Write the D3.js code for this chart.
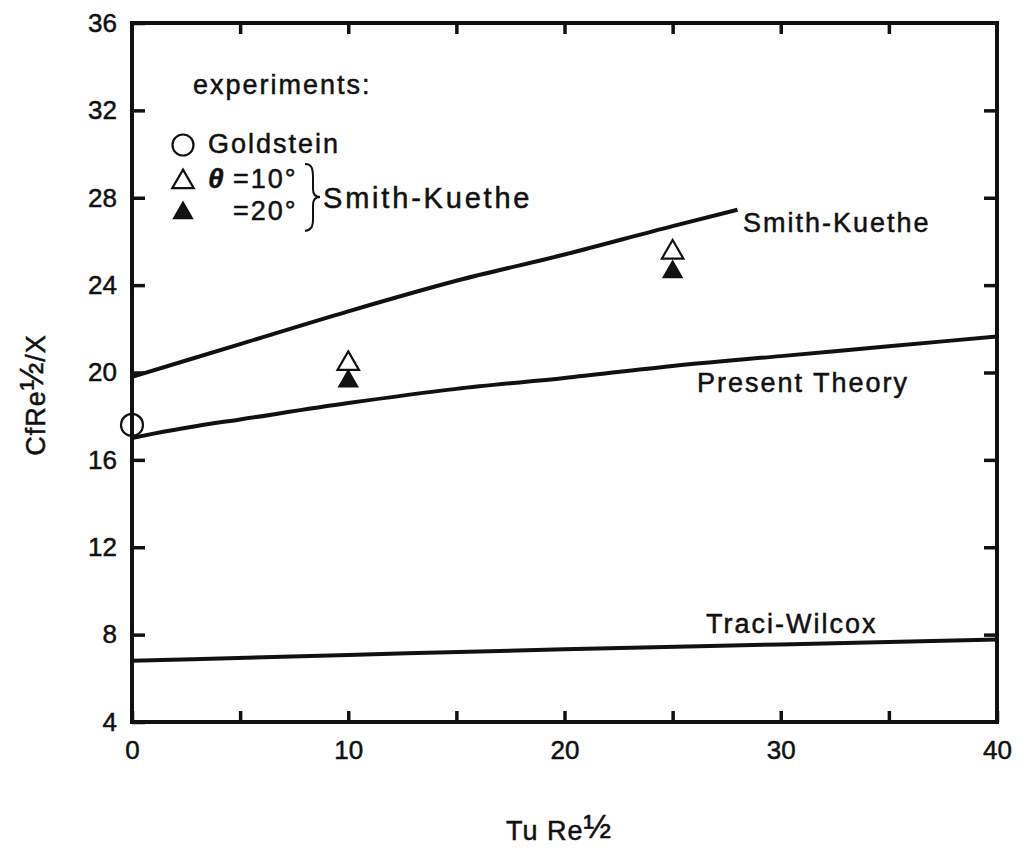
<!DOCTYPE html>
<html>
<head>
<meta charset="utf-8">
<script src="https://cdn.jsdelivr.net/npm/d3@7"></script>
<style>
  body { margin: 0; background: #fff; }
  text { font-family: "Liberation Sans", Arial, sans-serif; fill: #111; stroke: #111; stroke-width: 0.5px; }
</style>
</head>
<body>
<div id="chart"></div>
<script>
// values
var xTicks = [0, 5, 10, 15, 20, 25, 30, 35, 40];
var yTicks = [4, 8, 12, 16, 20, 24, 28, 32, 36];

var smithX = [0, 5, 10, 15, 20, 25, 28];
var smithY = [19.8, 21.3, 22.8, 24.2, 25.4, 26.7, 27.45];

var presentX = [0, 1, 3, 5, 10, 15, 20, 25, 30, 35, 40];
var presentY = [17.0, 17.2, 17.55, 17.85, 18.6, 19.25, 19.75, 20.3, 20.75, 21.2, 21.65];

var traciX = [0, 10, 20, 30, 40];
var traciY = [6.8, 7.07, 7.33, 7.55, 7.78];

var goldsteinX = [0];
var goldsteinY = [17.6];
var theta10X = [10, 25];
var theta10Y = [20.4, 25.5];
var theta20X = [10, 25];
var theta20Y = [19.6, 24.6];

var margin = {top: 23, left: 132},
    width = 865,
    height = 699;

var svg = d3.select("#chart").append("svg")
    .attr("width", 1020)
    .attr("height", 850);

var g = svg.append("g")
    .attr("transform", "translate(" + margin.left + "," + margin.top + ")");

var x = d3.scaleLinear().domain([0, 40]).range([0, width]);
var y = d3.scaleLinear().domain([4, 36]).range([height, 0]);

// axes, ticks pointing inward
var bottomAx = g.append("g")
    .attr("transform", "translate(0," + height + ")")
    .call(d3.axisBottom(x).tickValues(xTicks).tickSize(-11).tickPadding(19)
      .tickFormat(function(d) { return d % 10 == 0 ? d : ""; }));
var topAx = g.append("g")
    .call(d3.axisTop(x).tickValues(xTicks.slice(1, -1)).tickSize(-11).tickFormat(""));
var leftAx = g.append("g")
    .call(d3.axisLeft(y).tickValues(yTicks).tickSize(-13).tickPadding(15));
var rightAx = g.append("g")
    .attr("transform", "translate(" + width + ",0)")
    .call(d3.axisRight(y).tickValues(yTicks.slice(1, -1)).tickSize(-13).tickFormat(""));

[bottomAx, topAx, leftAx, rightAx].forEach(function(a) {
  a.select(".domain").remove();
  a.selectAll("line").attr("stroke", "#111").attr("stroke-width", 3.5);
  a.selectAll("text").style("font-size", "26px").attr("fill", "#111")
    .style("font-family", "'Liberation Sans', Arial, sans-serif");
});
bottomAx.selectAll("text").attr("dy", "0.71em");

g.append("rect")
    .attr("width", width)
    .attr("height", height)
    .attr("fill", "none")
    .attr("stroke", "#111")
    .attr("stroke-width", 4);

// curves
var line = d3.line()
    .x(function(d) { return x(d[0]); })
    .y(function(d) { return y(d[1]); })
    .curve(d3.curveMonotoneX);

[[smithX, smithY], [presentX, presentY], [traciX, traciY]].forEach(function(s) {
  g.append("path")
    .datum(d3.zip(s[0], s[1]))
    .attr("d", line)
    .attr("fill", "none")
    .attr("stroke", "#111")
    .attr("stroke-width", 4);
});

// experiment markers
var tri = d3.symbol().type(d3.symbolTriangle).size(200);

g.selectAll(".gold")
    .data(d3.zip(goldsteinX, goldsteinY))
  .enter().append("circle")
    .attr("cx", function(d) { return x(d[0]); })
    .attr("cy", function(d) { return y(d[1]); })
    .attr("r", 11)
    .attr("fill", "none")
    .attr("stroke", "#111")
    .attr("stroke-width", 2.2);

g.selectAll(".t20")
    .data(d3.zip(theta20X, theta20Y))
  .enter().append("path")
    .attr("d", tri)
    .attr("transform", function(d) { return "translate(" + x(d[0]) + "," + y(d[1]) + ")"; })
    .attr("fill", "#111");

g.selectAll(".t10")
    .data(d3.zip(theta10X, theta10Y))
  .enter().append("path")
    .attr("d", tri)
    .attr("transform", function(d) { return "translate(" + x(d[0]) + "," + y(d[1]) + ")"; })
    .attr("fill", "#fff")
    .attr("stroke", "#111")
    .attr("stroke-width", 2.2);

// curve labels
function label(txt, px, py, size, spacing) {
  svg.append("text")
    .attr("x", px).attr("y", py)
    .style("font-size", (size || 27) + "px")
    .style("letter-spacing", (spacing || 2) + "px")
    .text(txt);
}
label("Smith-Kuethe", 743, 232);
label("Present Theory", 697, 392);
label("Traci-Wilcox", 706, 633);

// legend
label("experiments:", 193, 94);
label("Goldstein", 208, 153);
svg.append("circle").attr("cx", 183).attr("cy", 145).attr("r", 10.5)
    .attr("fill", "none").attr("stroke", "#111").attr("stroke-width", 2.2);
svg.append("path").attr("d", tri).attr("transform", "translate(183,182)")
    .attr("fill", "#fff").attr("stroke", "#111").attr("stroke-width", 2.2);
svg.append("path").attr("d", tri).attr("transform", "translate(183,213)")
    .attr("fill", "#111");
svg.append("text").attr("x", 208).attr("y", 188)
    .style("font-size", "28px").style("font-style", "italic").style("font-weight", "bold")
    .text("θ");
label("=10°", 233, 188);
label("=20°", 233, 220);
svg.append("path")
    .attr("d", "M305,164 C312,164 313,169 313,178 L313,189 C313,194 315,197 320,197 C315,197 313,200 313,205 L313,219 C313,227 311,230 305,231")
    .attr("fill", "none").attr("stroke", "#111").attr("stroke-width", 2);
label("Smith-Kuethe", 323, 208, 29, 2.8);

// axis titles
var xt = svg.append("text")
    .attr("x", 559).attr("y", 840)
    .attr("text-anchor", "middle")
    .style("font-size", "27px")
    .style("letter-spacing", "1px");
xt.append("tspan").text("Tu Re");
xt.append("tspan").attr("dy", -2).style("font-size", "33px").text("½");

var yt = svg.append("text")
    .attr("transform", "translate(45,395) rotate(-90)")
    .attr("text-anchor", "middle")
    .style("font-size", "27px")
    .style("letter-spacing", "1px");
yt.append("tspan").text("CfRe");
yt.append("tspan").attr("dy", -2).style("font-size", "33px").text("½");
yt.append("tspan").attr("dy", 2).text("/X");
</script>
</body>
</html>
